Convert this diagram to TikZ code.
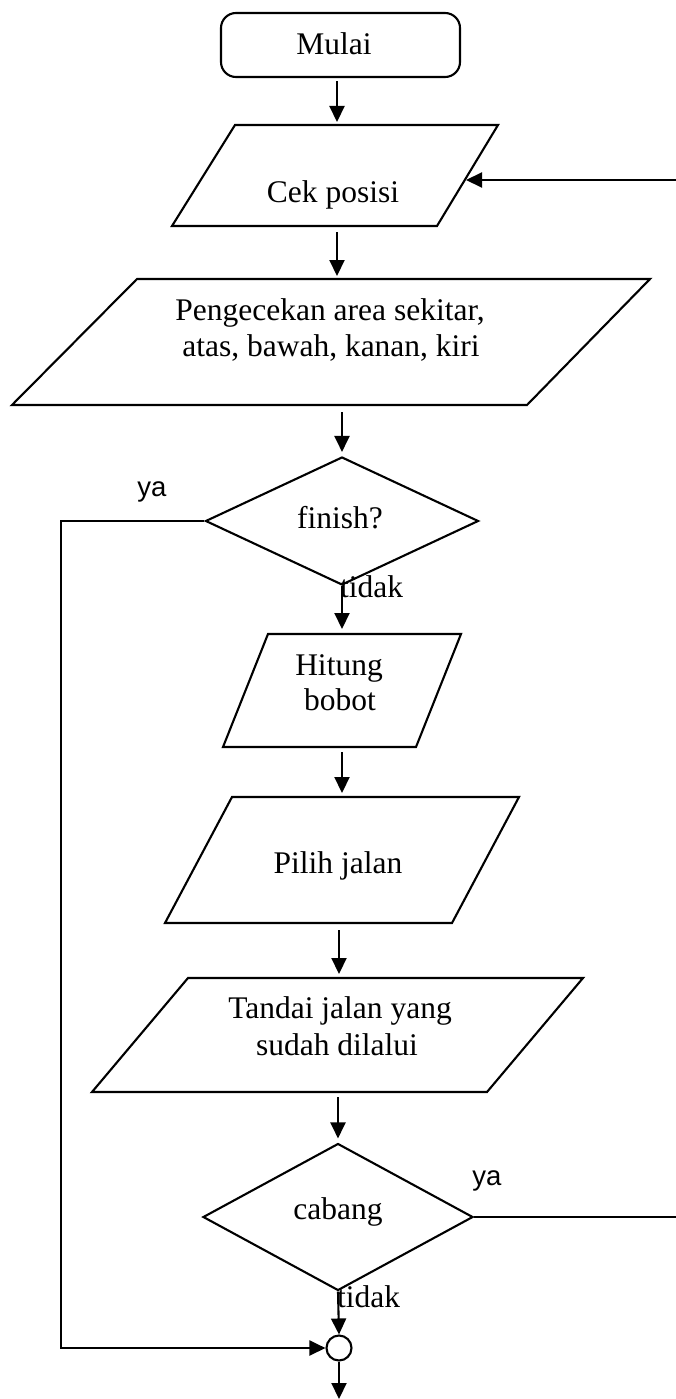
\documentclass[tikz,border=0pt]{standalone}
\usepackage{fontspec}
\setmainfont{Liberation Serif}
\newfontfamily\labelsans{Liberation Sans}
\usetikzlibrary{arrows.meta,shapes.geometric}

\begin{document}
\begin{tikzpicture}[x=1pt,y=-1pt,
  line width=2.1pt,
  shapeline/.style={draw, line width=2.1pt, line join=miter},
  arr/.style={-{Triangle[length=16pt,width=15pt]}},
  txt/.style={font=\fontsize{31.5}{36}\selectfont, inner sep=0pt, anchor=base},
  yn/.style={font=\labelsans\fontsize{27.5}{30}\selectfont, inner sep=0pt, anchor=base},
  decision/.style={draw, diamond, inner sep=0pt, aspect=2, line width=2.1pt},
  joinpt/.style={draw, circle, inner sep=0pt, minimum size=25pt, line width=2.1pt},
  startbox/.style={draw, rounded corners=15pt, inner sep=0pt, line width=2.1pt},
]
\useasboundingbox (0,0) rectangle (676,1399);

% start terminal
\node[startbox, minimum width=239pt, minimum height=64pt] (mulai) at (340.5,45) {};
\node[txt] (mulai-t) at (334,55) {Mulai};

% Cek posisi
\draw[shapeline] (235,125) -- (498,125) -- (437,226) -- (172,226) -- cycle;
\coordinate (cek-n) at (337,125);
\coordinate (cek-s) at (337,226);
\coordinate (cek-e) at (465,180);
\node[txt] (cek-t) at (333,202) {Cek posisi};

% Pengecekan area sekitar
\draw[shapeline] (137,279) -- (650,279) -- (527,405) -- (12,405) -- cycle;
\coordinate (peng-n) at (337,279);
\coordinate (peng-s) at (342,405);
\node[txt] (peng-t1) at (330,320) {Pengecekan area sekitar,};
\node[txt] (peng-t2) at (331,356) {atas, bawah, kanan, kiri};

% finish? decision
\node[decision, minimum width=273pt, minimum height=128pt] (fin) at (342,521) {};
\node[txt] (fin-t) at (340,528) {finish?};

% Hitung bobot
\draw[shapeline] (268,634) -- (461,634) -- (416,747) -- (223,747) -- cycle;
\coordinate (hit-n) at (342,634);
\coordinate (hit-s) at (342,747);
\node[txt] (hit-t1) at (339,675) {Hitung};
\node[txt] (hit-t2) at (340,710) {bobot};

% Pilih jalan
\draw[shapeline] (232,797) -- (519,797) -- (452,923) -- (165,923) -- cycle;
\coordinate (pil-n) at (342,797);
\coordinate (pil-s) at (339,923);
\node[txt] (pil-t) at (338,873) {Pilih jalan};

% Tandai jalan yang sudah dilalui
\draw[shapeline] (188,978) -- (583,978) -- (487,1092) -- (92,1092) -- cycle;
\coordinate (tan-n) at (339,978);
\coordinate (tan-s) at (338,1092);
\node[txt] (tan-t1) at (340,1018) {Tandai jalan yang};
\node[txt] (tan-t2) at (337,1055) {sudah dilalui};

% cabang decision
\node[decision, minimum width=270pt, minimum height=147pt] (cab) at (338,1217) {};
\node[txt] (cab-t) at (338,1219) {cabang};

% connector point
\node[joinpt] (circ) at (339,1348) {};

% branch labels
\node[yn] (ya1) at (152,496) {ya};
\node[yn] (ya2) at (487,1185) {ya};
\node[txt, anchor=base west] (tidak1) at (339,597) {tidak};
\node[txt, anchor=base west] (tidak2) at (336,1307) {tidak};

% free ends of the loop lines
\coordinate (lx) at (61,519);
\coordinate (redge-b) at (676,1217);
\coordinate (redge-t) at (676,180);
\coordinate (out) at (339,1399);

% main flow
\draw[arr, shorten <=3pt, shorten >=3pt] (mulai.south -| cek-n) -- (cek-n);
\draw[arr, shorten <=6pt, shorten >=3pt] (cek-s) -- (peng-n);
\draw[arr, shorten <=7pt, shorten >=4pt] (peng-s) -- (fin.north);
\draw[arr, shorten >=5pt] (fin.south) -- (hit-n);
\draw[arr, shorten <=5pt, shorten >=4pt] (hit-s) -- (pil-n);
\draw[arr, shorten <=7pt, shorten >=4pt] (pil-s) -- (tan-n);
\draw[arr, shorten <=5pt, shorten >=4pt] (tan-s) -- (tan-s |- cab.north);
\draw[arr] (cab.south) -- (circ.north);
\draw[arr] (circ.south) -- (out);

% finish: ya branch to the connector point
\draw[arr] (fin.west) -- (fin.west -| lx) |- (circ.west);

% cabang: ya branch back to Cek posisi
\draw (cab.east) -- (redge-b);
\draw[arr, shorten >=1pt] (redge-t) -- (cek-e);
\end{tikzpicture}
\end{document}
